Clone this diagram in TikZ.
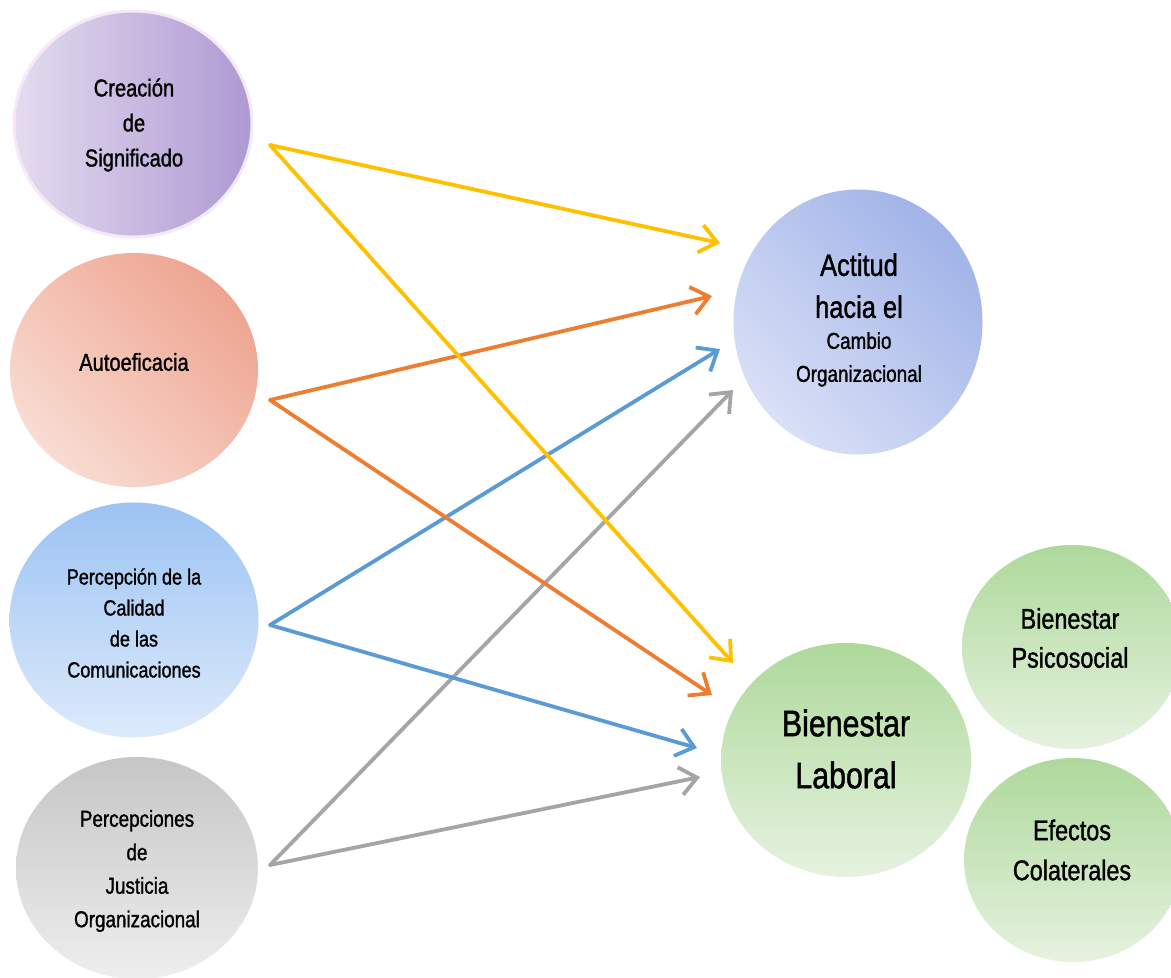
\documentclass[tikz,border=0pt]{standalone}
\usepackage{fontspec}
\setmainfont{Liberation Sans}[FakeStretch=0.82,FakeBold=1.2]
\usetikzlibrary{shapes.geometric,arrows.meta}
\definecolor{cyel}{HTML}{FFC000}
\definecolor{cora}{HTML}{ED7D31}
\definecolor{cblu}{HTML}{5B9BD5}
\definecolor{cgry}{HTML}{A5A5A5}
\definecolor{purL}{HTML}{E4DCEF}
\definecolor{purD}{HTML}{AE99D3}
\definecolor{halo}{HTML}{F7E8F8}
\definecolor{salD}{HTML}{EEA591}
\definecolor{salL}{HTML}{F9DCD2}
\definecolor{bluD}{HTML}{9CC3F3}
\definecolor{bluL}{HTML}{DDEAFB}
\definecolor{gryD}{HTML}{C6C6C6}
\definecolor{gryL}{HTML}{EEEEEE}
\definecolor{perD}{HTML}{A1B3E8}
\definecolor{perL}{HTML}{D9E0F6}
\definecolor{grnD}{HTML}{AED99B}
\definecolor{grnL}{HTML}{E6F2E0}
\tikzset{
  bub/.style={ellipse, inner sep=0pt, draw=none},
  txt/.style={align=center, inner sep=0pt, text=black},
  arr/.style={line width=3.8pt, line cap=round, line join=round,
    -{Straight Barb[length=17pt,width=28pt,line width=3.8pt]}},
}
\begin{document}
\begin{tikzpicture}[x=1pt,y=-1pt]
\clip (0,0) rectangle (1171,978);
\fill[white] (0,0) rectangle (1171,978);
% bubbles
\node[bub, minimum width=238pt, minimum height=226pt, draw=halo, line width=3pt,
  left color=purL, right color=purD] (b1) at (133,124) {};
\node[bub, minimum width=248pt, minimum height=234pt,
  top color=salD, bottom color=salL, shading angle=-45] (b2) at (134,370) {};
\node[bub, minimum width=249pt, minimum height=235pt,
  top color=bluD, bottom color=bluL] (b3) at (134,620) {};
\node[bub, minimum width=242pt, minimum height=222pt,
  top color=gryD, bottom color=gryL] (b4) at (137,868) {};
\node[bub, minimum width=249pt, minimum height=265pt,
  top color=perD, bottom color=perL, shading angle=-45] (b5) at (858,322) {};
\node[bub, minimum width=250pt, minimum height=234pt,
  top color=grnD, bottom color=grnL] (b6) at (846,760) {};
\node[bub, minimum width=220pt, minimum height=204pt,
  top color=grnD, bottom color=grnL] (b7) at (1072,647) {};
\node[bub, minimum width=218pt, minimum height=204pt,
  top color=grnD, bottom color=grnL] (b8) at (1073,860) {};
% texts
\node[txt, font=\fontsize{24.5}{35}\selectfont] (t1) at (134,125) {Creación\\de\\Significado};
\node[txt, font=\fontsize{24.5}{35}\selectfont] (t2) at (134,362) {Autoeficacia};
\node[txt, font=\fontsize{22}{31}\selectfont] (t3) at (134,623) {Percepción de la\\Calidad\\de las\\Comunicaciones};
\node[txt, font=\fontsize{23}{33.5}\selectfont] (t4) at (137,871) {Percepciones\\de\\Justicia\\Organizacional};
\node[txt, font=\fontsize{31}{33}\selectfont] (t5) at (859,320) {Actitud\\[9pt]hacia el\\[-2pt]\fontsize{23}{33}\selectfont Cambio\\\fontsize{23}{33}\selectfont Organizacional};
\node[txt, font=\fontsize{37}{52}\selectfont] (t6) at (846,749) {Bienestar\\Laboral};
\node[txt, font=\fontsize{28.5}{39}\selectfont] (t7) at (1070,638) {Bienestar\\Psicosocial};
\node[txt, font=\fontsize{28.5}{40}\selectfont] (t8) at (1072,850) {Efectos\\Colaterales};
% connector end points
\coordinate (s1) at (270,145);
\coordinate (s2) at (270,400);
\coordinate (s3) at (270,625);
\coordinate (s4) at (270,865);
\coordinate (e1a) at (720,243);
\coordinate (e1b) at (733,663);
\coordinate (e2a) at (712,296);
\coordinate (e2b) at (712,695);
\coordinate (e3a) at (720,349);
\coordinate (e3b) at (697,748);
\coordinate (e4a) at (733,390);
\coordinate (e4b) at (700,777);
% connectors
\draw[arr, cgry] (s4) -- (e4a);
\draw[arr, cgry] (s4) -- (e4b);
\draw[arr, cblu] (s3) -- (e3a);
\draw[arr, cblu] (s3) -- (e3b);
\draw[arr, cora] (s2) -- (e2a);
\draw[arr, cora] (s2) -- (e2b);
\draw[arr, cyel] (s1) -- (e1a);
\draw[arr, cyel] (s1) -- (e1b);
\end{tikzpicture}
\end{document}
